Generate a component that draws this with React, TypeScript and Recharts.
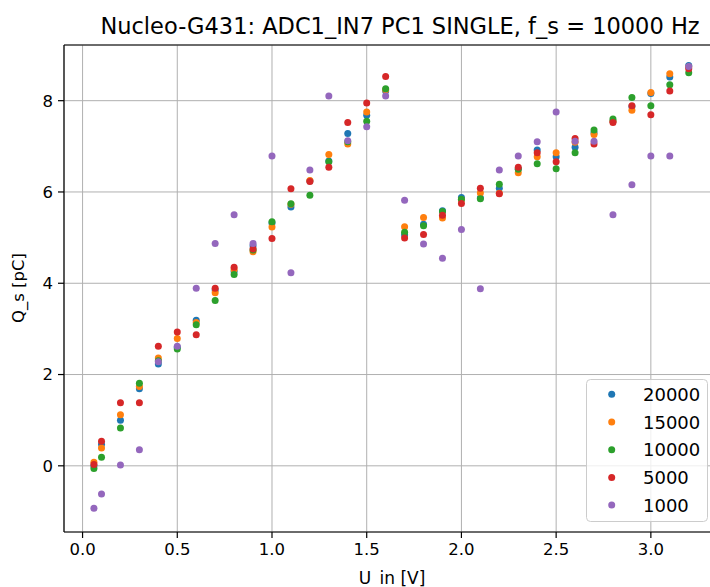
import React from 'react';
import { ScatterChart, Scatter, XAxis, YAxis, CartesianGrid, ReferenceLine, Legend } from 'recharts';

const U_IN = [0.06, 0.1, 0.2, 0.3, 0.4, 0.5, 0.6, 0.7, 0.8, 0.9, 1.0, 1.1, 1.2, 1.3, 1.4, 1.5, 1.6, 1.7, 1.8, 1.9, 2.0, 2.1, 2.2, 2.3, 2.4, 2.5, 2.6, 2.7, 2.8, 2.9, 3.0, 3.1, 3.2];

const Q_20000 = [0.0, 0.47, 1.0, 1.69, 2.23, 2.6, 3.19, 3.85, 4.26, 4.82, 5.32, 5.67, 6.24, 6.68, 7.28, 7.68, 8.21, 5.06, 5.29, 5.59, 5.88, 5.87, 6.08, 6.51, 6.92, 6.77, 6.98, 7.3, 7.55, 7.87, 8.16, 8.52, 8.77];
const Q_15000 = [0.08, 0.39, 1.12, 1.74, 2.36, 2.79, 3.14, 3.79, 4.3, 4.69, 5.23, 5.73, 6.25, 6.82, 7.05, 7.75, 8.24, 5.24, 5.44, 5.43, 5.83, 5.98, 5.97, 6.42, 6.77, 6.86, 7.09, 7.26, 7.55, 7.79, 8.18, 8.59, 8.74];
const Q_10000 = [-0.06, 0.19, 0.83, 1.81, 2.3, 2.56, 3.09, 3.62, 4.19, 4.73, 5.35, 5.74, 5.93, 6.66, 7.1, 7.55, 8.26, 5.12, 5.26, 5.57, 5.84, 5.85, 6.17, 6.5, 6.62, 6.51, 6.86, 7.36, 7.6, 8.07, 7.89, 8.35, 8.61];
const Q_5000 = [0.03, 0.54, 1.38, 1.38, 2.62, 2.93, 2.87, 3.89, 4.35, 4.75, 4.98, 6.07, 6.23, 6.54, 7.52, 7.95, 8.53, 4.99, 5.07, 5.49, 5.75, 6.08, 5.96, 6.54, 6.86, 6.66, 7.17, 7.05, 7.52, 7.89, 7.69, 8.21, 8.7];
const Q_1000 = [-0.93, -0.62, 0.02, 0.35, 2.28, 2.62, 3.89, 4.87, 5.5, 4.87, 6.79, 4.23, 6.48, 8.1, 7.12, 7.43, 8.1, 5.82, 4.86, 4.55, 5.18, 3.88, 6.48, 6.79, 7.1, 7.75, 7.11, 7.11, 5.5, 6.16, 6.79, 6.79, 8.75];

const SERIES_NAMES = ['20000', '15000', '10000', '5000', '1000'];
const SERIES_VALUES = [Q_20000, Q_15000, Q_10000, Q_5000, Q_1000];
const SERIES_COLORS = ['#1f77b4', '#ff7f0e', '#2ca02c', '#d62728', '#9467bd'];

const X_TICKS = [0, 0.5, 1.0, 1.5, 2.0, 2.5, 3.0];
const Y_TICKS = [0, 2, 4, 6, 8];
const X_DOMAIN = [-0.098, 3.365];
const Y_DOMAIN = [-1.45, 9.22];

const TITLE = 'Nucleo-G431: ADC1_IN7 PC1 SINGLE, f_s = 10000 Hz';
const X_LABEL = 'U_in [V]';
const Y_LABEL = 'Q_s [pC]';

const FONT = '"DejaVu Sans", sans-serif';

const seriesData = SERIES_VALUES.map((vals) => U_IN.map((x, i) => ({ x, y: vals[i] })));

const makeDot = (color: string) => (props: any) => (
  <circle cx={props.cx} cy={props.cy} r={3.5} fill={color} />
);

const LegendBox = () => (
  <svg width={122} height={143} style={{ display: 'block' }}>
    <rect x={0.5} y={0.5} width={121} height={142} rx={4} ry={4} fill="#ffffff" fillOpacity={0.8} stroke="#cccccc" strokeWidth={1} />
    {SERIES_NAMES.map((name, i) => (
      <g key={name}>
        <circle cx={25.7} cy={15.3 + 27.7 * i} r={3.5} fill={SERIES_COLORS[i]} />
        <text x={57} y={15.3 + 27.7 * i + 6.5} fontSize={18} fontFamily={FONT} fill="#000">{name}</text>
      </g>
    ))}
  </svg>
);

export default function App() {
  return (
    <div style={{ position: 'absolute', left: 0, top: 0, width: 710, height: 587, overflow: 'hidden', background: '#fff' }}>
      <ScatterChart width={730} height={587} margin={{ top: 45, right: 10, bottom: 0, left: 0 }}>
        <CartesianGrid stroke="#b0b0b0" strokeWidth={1} />
        <XAxis
          type="number"
          dataKey="x"
          domain={X_DOMAIN}
          ticks={X_TICKS}
          allowDataOverflow
          height={55}
          tickFormatter={(v: number) => v.toFixed(1)}
          tick={{ fontSize: 16.5, fontFamily: FONT, fill: '#000' }}
          tickSize={6}
          tickMargin={5}
          axisLine={{ stroke: '#000', strokeWidth: 1.2 }}
          tickLine={{ stroke: '#000', strokeWidth: 1.2 }}
        />
        <YAxis
          type="number"
          dataKey="y"
          domain={Y_DOMAIN}
          ticks={Y_TICKS}
          allowDataOverflow
          width={64}
          tick={{ fontSize: 16.5, fontFamily: FONT, fill: '#000' }}
          tickSize={6}
          tickMargin={5}
          axisLine={{ stroke: '#000', strokeWidth: 1.2 }}
          tickLine={{ stroke: '#000', strokeWidth: 1.2 }}
        />
        <ReferenceLine y={Y_DOMAIN[1]} stroke="#000" strokeWidth={1.2} />
        {SERIES_NAMES.map((name, i) => (
          <Scatter
            key={name}
            name={name}
            data={seriesData[i]}
            fill={SERIES_COLORS[i]}
            shape={makeDot(SERIES_COLORS[i])}
            isAnimationActive={false}
          />
        ))}
        <Legend
          layout="vertical"
          align="center"
          verticalAlign="middle"
          content={LegendBox}
          wrapperStyle={{ position: 'absolute', left: 586, top: 379, width: 122, height: 143 }}
        />
      </ScatterChart>
      <svg width={710} height={587} style={{ position: 'absolute', left: 0, top: 0, pointerEvents: 'none' }}>
        <text x={400} y={34} textAnchor="middle" fontSize={22.5} fontFamily={FONT} fill="#000">{TITLE}</text>
        <text x={392} y={584} textAnchor="middle" fontSize={17} fontFamily={FONT} fill="#000">{X_LABEL}</text>
        <text x={18} y={288} textAnchor="middle" dominantBaseline="central" fontSize={16.5} fontFamily={FONT} fill="#000" transform="rotate(-90 18 288)">{Y_LABEL}</text>
      </svg>
    </div>
  );
}
